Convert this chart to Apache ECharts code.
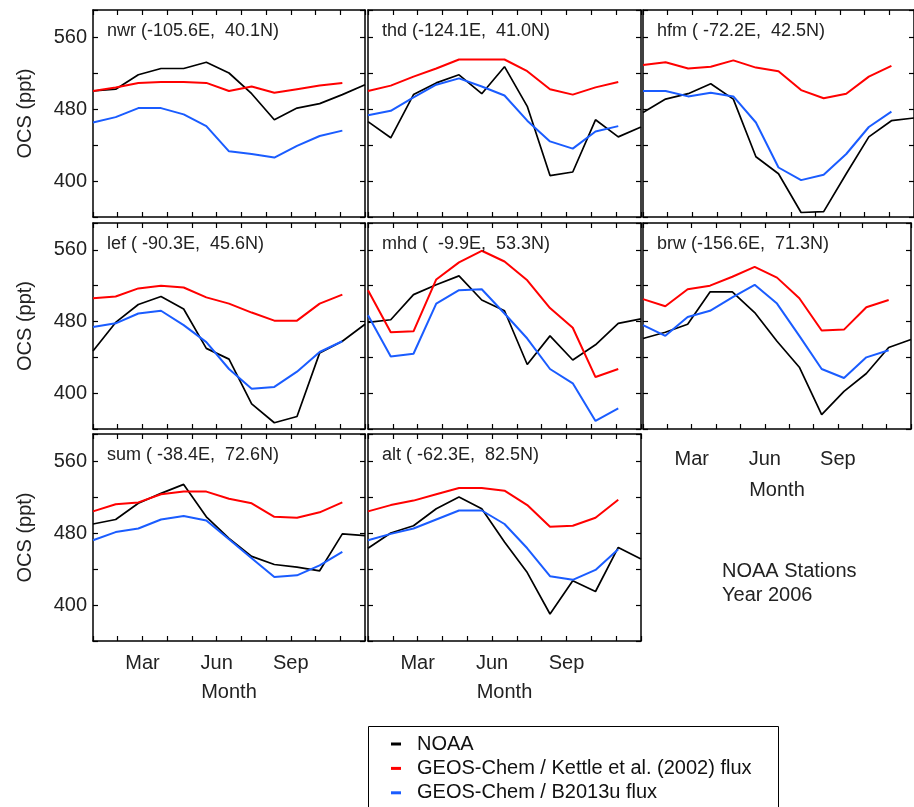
<!DOCTYPE html>
<html>
<head>
<meta charset="utf-8">
<script src="https://cdn.jsdelivr.net/npm/echarts@6/dist/echarts.min.js"></script>
<style>
html,body{margin:0;padding:0;background:#fff;}
#chart{width:914px;height:807px;}
</style>
</head>
<body>
<div id="chart"></div>
<script>
// ---- data ----
const months = ['Jan','Feb','Mar','Apr','May','Jun','Jul','Aug','Sep','Oct','Nov','Dec'];
const monthTickLabels = ['', '', 'Mar', '', '', 'Jun', '', '', 'Sep', '', '', ''];
const samples = ['s1','s2','s3','s4','s5','s6','s7','s8','s9','s10','s11','s12','s13'];
const yTickLabels = [400, 480, 560];
const seriesNames = ['NOAA', 'GEOS-Chem / Kettle et al. (2002) flux', 'GEOS-Chem / B2013u flux'];
const stationTitles = [
  'nwr (-105.6E,  40.1N)', 'thd (-124.1E,  41.0N)', 'hfm ( -72.2E,  42.5N)',
  'lef ( -90.3E,  45.6N)', 'mhd (  -9.9E,  53.3N)', 'brw (-156.6E,  71.3N)',
  'sum ( -38.4E,  72.6N)', 'alt ( -62.3E,  82.5N)'
];

const nwrNoaa   = [500, 502, 518, 525, 525, 532, 520, 497, 468, 481, 486, 496, 507];
const nwrKettle = [500, 504, 509, 510, 510, 509, 500, 505, 498, 502, 506, 509];
const nwrB2013  = [465, 471, 481, 481, 474, 461, 433, 430, 426, 439, 450, 456];

const thdNoaa   = [466, 448, 496, 509, 518, 497, 527, 483, 406, 410, 468, 449, 460];
const thdKettle = [500, 506, 516, 525, 535, 535, 535, 522, 502, 496, 504, 510];
const thdB2013  = [473, 478, 493, 507, 514, 505, 495, 467, 444, 436, 455, 461];

const hfmNoaa   = [476, 491, 497, 508, 491, 427, 408, 365, 366, 408, 449, 467, 470];
const hfmKettle = [529, 532, 525, 527, 534, 526, 522, 501, 492, 497, 516, 528];
const hfmB2013  = [500, 500, 494, 498, 494, 465, 415, 401, 407, 430, 460, 477];

const lefNoaa   = [447, 479, 499, 508, 494, 450, 438, 388, 367, 374, 445, 458, 477];
const lefKettle = [506, 508, 517, 520, 518, 507, 500, 490, 481, 481, 500, 510];
const lefB2013  = [474, 478, 489, 492, 476, 457, 427, 405, 407, 424, 446, 458];

const mhdNoaa   = [479, 482, 510, 521, 531, 504, 492, 432, 464, 437, 454, 478, 483];
const mhdKettle = [515, 468, 469, 527, 546, 559, 547, 526, 495, 473, 418, 427];
const mhdB2013  = [487, 441, 444, 500, 515, 516, 489, 461, 427, 411, 369, 383];

const brwNoaa   = [461, 468, 477, 513, 513, 490, 458, 429, 376, 402, 422, 451, 460];
const brwKettle = [505, 497, 516, 520, 530, 541, 529, 506, 470, 471, 496, 504];
const brwB2013  = [476, 464, 485, 492, 507, 521, 500, 464, 427, 417, 440, 448];

const sumNoaa   = [490, 495, 513, 524, 534, 498, 474, 454, 445, 442, 438, 479, 477];
const sumKettle = [504, 512, 514, 523, 526, 526, 518, 513, 498, 497, 503, 514];
const sumB2013  = [472, 481, 485, 495, 499, 494, 473, 452, 431, 433, 444, 459];

const altNoaa   = [463, 480, 488, 507, 520, 507, 470, 436, 390, 427, 415, 464, 451];
const altKettle = [504, 511, 516, 523, 530, 530, 527, 511, 487, 488, 497, 517];
const altB2013  = [472, 479, 485, 495, 505, 505, 490, 463, 432, 428, 439, 462];

const panelData = [
  [nwrNoaa, nwrKettle, nwrB2013], [thdNoaa, thdKettle, thdB2013], [hfmNoaa, hfmKettle, hfmB2013],
  [lefNoaa, lefKettle, lefB2013], [mhdNoaa, mhdKettle, mhdB2013], [brwNoaa, brwKettle, brwB2013],
  [sumNoaa, sumKettle, sumB2013], [altNoaa, altKettle, altB2013]
];

// ---- layout / style ----
const FONT = "'Liberation Sans', Arial, Helvetica, sans-serif";
const TXT = '#222';
const colors = ['#000000', '#ff0000', '#1a5cff'];
const widths = [1.7, 2, 2];
const colLeft = [93, 368, 643], colWidth = [272, 273, 271];
const rowTop = [10, 223, 434], rowHeight = [207, 206, 207];
const pos = [[0,0],[0,1],[0,2],[1,0],[1,1],[1,2],[2,0],[2,1]];
const xLabelled = {5: {margin: 20, nameGap: 51}, 6: {margin: 12, nameGap: 41}, 7: {margin: 12, nameGap: 41}};

const line = {color: '#000', width: 1.5};
const tick = {inside: true, length: 5, lineStyle: {color: '#000', width: 1.2}};

const grid = [], xAxis = [], yAxis = [], series = [], title = [];
pos.forEach(([r, c], i) => {
  grid.push({left: colLeft[c], top: rowTop[r], width: colWidth[c], height: rowHeight[r], containLabel: false});
  title.push({text: stationTitles[i], left: colLeft[c] + 14, top: rowTop[r] + 11, padding: 0,
    textStyle: {fontFamily: FONT, fontSize: 18, fontWeight: 'normal', color: TXT, lineHeight: 20}});
  const xl = xLabelled[i];
  xAxis.push({
    type: 'value', gridIndex: i, min: 1, max: 12, interval: 1, position: 'bottom',
    axisLine: {show: true, onZero: false, lineStyle: line}, axisTick: tick, splitLine: {show: false},
    axisLabel: {show: !!xl, margin: xl ? xl.margin : 8, fontFamily: FONT, fontSize: 20, color: TXT,
      formatter: v => monthTickLabels[Math.round(v) - 1] || ''},
    name: xl ? 'Month' : '', nameLocation: 'middle', nameGap: xl ? xl.nameGap : 0,
    nameTextStyle: {fontFamily: FONT, fontSize: 20, color: TXT}
  });
  xAxis.push({
    type: 'value', gridIndex: i, min: 1, max: 12, interval: 1, position: 'top',
    axisLine: {show: true, onZero: false, lineStyle: line}, axisTick: tick, splitLine: {show: false},
    axisLabel: {show: false}
  });
  xAxis.push({type: 'category', gridIndex: i, data: samples, boundaryGap: false, show: false});
  yAxis.push({
    type: 'value', gridIndex: i, min: 360, max: 590, interval: 40, position: 'left',
    axisLine: {show: true, onZero: false, lineStyle: line}, axisTick: tick, splitLine: {show: false},
    axisLabel: {show: c === 0, margin: 6, fontFamily: FONT, fontSize: 20, color: TXT,
      formatter: v => yTickLabels.indexOf(Math.round(v)) >= 0 ? String(Math.round(v)) : ''},
    name: c === 0 ? 'OCS (ppt)' : '', nameLocation: 'middle', nameGap: 58,
    nameTextStyle: {fontFamily: FONT, fontSize: 20, color: TXT}
  });
  yAxis.push({
    type: 'value', gridIndex: i, min: 360, max: 590, interval: 40, position: 'right',
    axisLine: {show: true, onZero: false, lineStyle: line}, axisTick: tick, splitLine: {show: false},
    axisLabel: {show: false}
  });
  panelData[i].forEach((vals, k) => {
    series.push({
      name: seriesNames[k], type: 'line', xAxisIndex: 3 * i + 2, yAxisIndex: 2 * i,
      data: vals, symbol: 'none', silent: true,
      lineStyle: {color: colors[k], width: widths[k]}, itemStyle: {color: colors[k]}
    });
  });
});

const chart = echarts.init(document.getElementById('chart'), null, {renderer: 'canvas'});
chart.setOption({
  animation: false,
  backgroundColor: '#fff',
  title, grid, xAxis, yAxis, series,
  legend: {
    data: seriesNames, orient: 'vertical', left: 391, top: 734, selectedMode: false,
    icon: 'rect', itemWidth: 10, itemHeight: 3, itemGap: 4.4,
    padding: 0, borderWidth: 0,
    textStyle: {fontFamily: FONT, fontSize: 20, color: '#111', lineHeight: 20, padding: [0, 0, 0, 11]}
  },
  graphic: [
    {type: 'rect', silent: true, shape: {x: 368.5, y: 726.5, width: 410, height: 100},
     style: {fill: 'none', stroke: '#000', lineWidth: 1}},
    {type: 'text', left: 722, top: 559,
     style: {text: 'NOAA Stations\nYear 2006', fontFamily: FONT, fontSize: 20, lineHeight: 24, fill: TXT}}
  ]
});
</script>
</body>
</html>
